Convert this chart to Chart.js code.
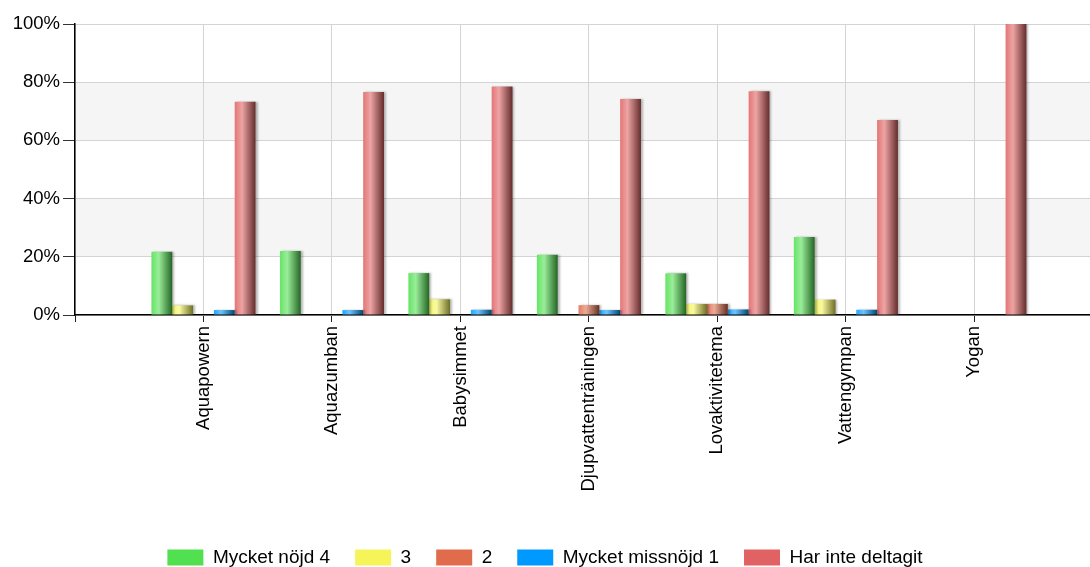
<!DOCTYPE html>
<html>
<head>
<meta charset="utf-8">
<script src="https://cdn.jsdelivr.net/npm/chart.js@4/dist/chart.umd.min.js"></script>
<style>
  html, body { margin: 0; padding: 0; background: #fff; }
  #wrap { width: 1090px; height: 567px; }
</style>
</head>
<body>
<div id="wrap"><canvas id="c" width="1090" height="567"></canvas></div>
<script>
const categories = ['Aquapowern', 'Aquazumban', 'Babysimmet', 'Djupvattenträningen', 'Lovaktivitetema', 'Vattengympan', 'Yogan'];
const seriesNames = ['Mycket nöjd 4', '3', '2', 'Mycket missnöjd 1', 'Har inte deltagit'];
const nojd4 =      [21.7, 22.0, 14.4, 20.7, 14.3, 26.8, 0];
const nojd3 =      [3.3, 0, 5.4, 0, 3.8, 5.3, 0];
const nojd2 =      [0, 0, 0, 3.4, 3.8, 0, 0];
const missnojd1 =  [1.7, 1.7, 1.8, 1.7, 1.9, 1.8, 0];
const ejDeltagit = [73.3, 76.6, 78.5, 74.2, 76.9, 67.0, 100];
const yTicks = [0, 20, 40, 60, 80, 100];
const seriesColors = ['#50e050', '#f5f55a', '#e06c4c', '#0099ff', '#e06262'];

const FONT = "'Liberation Sans', Arial, sans-serif";

function hexToRgb(h) {
  const n = parseInt(h.slice(1), 16);
  return [(n >> 16) & 255, (n >> 8) & 255, n & 255];
}
function mix(rgb, target, t) {
  return 'rgb(' + rgb.map((c, i) => Math.round(c + (target[i] - c) * t)).join(',') + ')';
}

const allSeries = [nojd4, nojd3, nojd2, missnojd1, ejDeltagit];
const datasets = allSeries.map((vals, k) => ({
  label: seriesNames[k],
  data: vals.map((v, i) => ({ x: i + 1, y: v })),
  backgroundColor: seriesColors[k],
  borderWidth: 0,
  categoryPercentage: 0.81,
  barPercentage: 1.0
}));

const bandPlugin = {
  id: 'bands',
  beforeDraw(chart) {
    const { ctx, chartArea, scales } = chart;
    const y = scales.y;
    ctx.save();
    ctx.fillStyle = '#f5f5f5';
    for (let i = 0; i < yTicks.length - 1; i++) {
      if (i % 2 === 1) {
        const top = y.getPixelForValue(yTicks[i + 1]);
        const bot = y.getPixelForValue(yTicks[i]);
        ctx.fillRect(chartArea.left, top, chartArea.right - chartArea.left, bot - top);
      }
    }
    ctx.restore();
  }
};

const gradientPlugin = {
  id: 'barGradient',
  beforeDatasetDraw(chart, args) {
    const meta = args.meta;
    const ctx = chart.ctx;
    const rgb = hexToRgb(seriesColors[args.index]);
    meta.data.forEach(el => {
      const left = el.x - el.width / 2;
      const right = el.x + el.width / 2;
      const g = ctx.createLinearGradient(left, 0, right, 0);
      g.addColorStop(0, mix(rgb, [255, 255, 255], 0.12));
      g.addColorStop(0.35, mix(rgb, [255, 255, 255], 0.42));
      g.addColorStop(1, mix(rgb, [0, 0, 0], 0.55));
      el.options = Object.assign({}, el.options, { backgroundColor: g });
    });
    ctx.save();
    ctx.shadowColor = 'rgba(0,0,0,0.28)';
    ctx.shadowOffsetX = 2;
    ctx.shadowOffsetY = 0;
    ctx.shadowBlur = 2;
  },
  afterDatasetDraw(chart) {
    chart.ctx.restore();
  }
};

new Chart(document.getElementById('c'), {
  type: 'bar',
  data: { datasets },
  plugins: [bandPlugin, gradientPlugin],
  options: {
    responsive: false,
    animation: false,
    devicePixelRatio: 1,
    layout: { padding: { top: 24, right: 0, left: 0, bottom: 0 } },
    plugins: {
      tooltip: { enabled: false },
      legend: {
        position: 'bottom',
        maxHeight: 44,
        labels: {
          boxWidth: 36,
          boxHeight: 16,
          padding: 25,
          color: '#000',
          font: { family: FONT, size: 19 }
        }
      }
    },
    scales: {
      x: {
        type: 'linear',
        min: 0,
        max: 7.9,
        offset: false,
        afterBuildTicks(scale) {
          scale.ticks = [0, 1, 2, 3, 4, 5, 6, 7].map(v => ({ value: v }));
        },
        afterFit(scale) { scale.height = 208; },
        ticks: {
          autoSkip: false,
          minRotation: 90,
          maxRotation: 90,
          padding: 4,
          color: '#000',
          font: { family: FONT, size: 18.5 },
          callback: (v) => (v >= 1 && v <= categories.length) ? categories[v - 1] : ''
        },
        grid: { offset: false, color: '#d4d4d4', tickColor: '#222', tickLength: 7, lineWidth: 1 },
        border: { color: '#000', width: 1.5 }
      },
      y: {
        min: 0,
        max: 100,
        afterBuildTicks(scale) {
          scale.ticks = yTicks.map(v => ({ value: v }));
        },
        afterFit(scale) { scale.width = 75; },
        ticks: {
          padding: 3,
          color: '#000',
          font: { family: FONT, size: 18.5 },
          callback: (v) => v + '%'
        },
        grid: { color: '#d4d4d4', tickColor: '#333', tickLength: 12, lineWidth: 1 },
        border: { color: '#000', width: 1.5 }
      }
    }
  }
});
</script>
</body>
</html>
